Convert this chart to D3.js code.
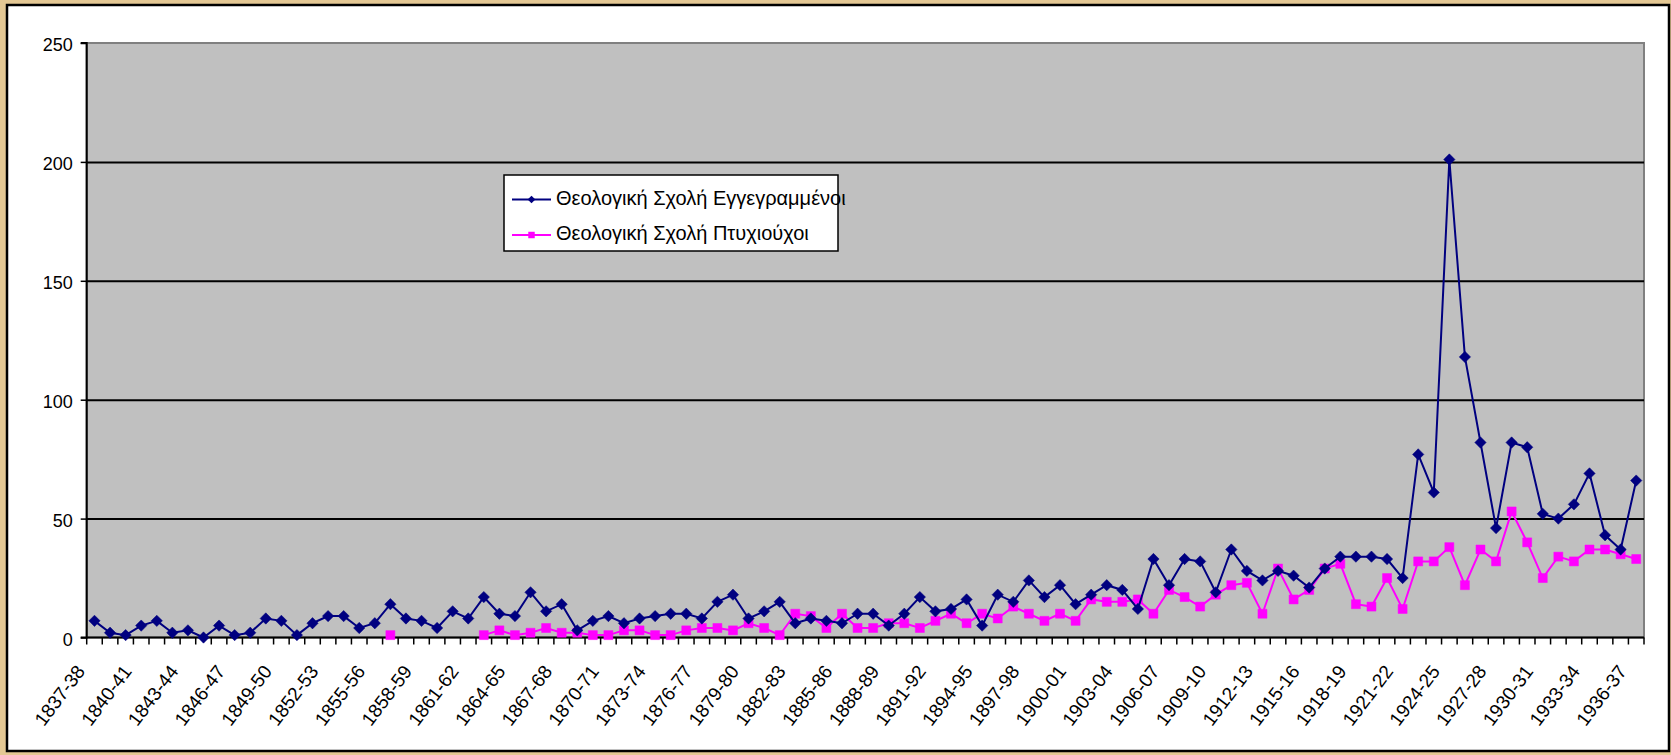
<!DOCTYPE html>
<html>
<head>
<meta charset="utf-8">
<script src="https://cdn.jsdelivr.net/npm/d3@7"></script>
<style>
html,body{margin:0;padding:0;background:#e4c894;}
svg{display:block;}
text{font-family:"Liberation Sans",Arial,sans-serif;fill:#000;}
</style>
</head>
<body>
<svg id="chart" width="1671" height="755"></svg>
<script>
const categories = [
"1837-38","1838-39","1839-40","1840-41","1841-42","1842-43","1843-44","1844-45","1845-46","1846-47",
"1847-48","1848-49","1849-50","1850-51","1851-52","1852-53","1853-54","1854-55","1855-56","1856-57",
"1857-58","1858-59","1859-60","1860-61","1861-62","1862-63","1863-64","1864-65","1865-66","1866-67",
"1867-68","1868-69","1869-70","1870-71","1871-72","1872-73","1873-74","1874-75","1875-76","1876-77",
"1877-78","1878-79","1879-80","1880-81","1881-82","1882-83","1883-84","1884-85","1885-86","1886-87",
"1887-88","1888-89","1889-90","1890-91","1891-92","1892-93","1893-94","1894-95","1895-96","1896-97",
"1897-98","1898-99","1899-00","1900-01","1901-02","1902-03","1903-04","1904-05","1905-06","1906-07",
"1907-08","1908-09","1909-10","1910-11","1911-12","1912-13","1913-14","1914-15","1915-16","1916-17",
"1917-18","1918-19","1919-20","1920-21","1921-22","1922-23","1923-24","1924-25","1925-26","1926-27",
"1927-28","1928-29","1929-30","1930-31","1931-32","1932-33","1933-34","1934-35","1935-36","1936-37"];

const tickLabels = ["1837-38","1840-41","1843-44","1846-47","1849-50","1852-53","1855-56","1858-59",
"1861-62","1864-65","1867-68","1870-71","1873-74","1876-77","1879-80","1882-83","1885-86","1888-89",
"1891-92","1894-95","1897-98","1900-01","1903-04","1906-07","1909-10","1912-13","1915-16","1918-19",
"1921-22","1924-25","1927-28","1930-31","1933-34","1936-37"];

const yTicks = [0,50,100,150,200,250];

const enrolledName = "Θεολογική Σχολή Εγγεγραμμένοι";
const enrolled = [
7,2,1,5,7,2,3,0,5,1,
2,8,7,1,6,9,9,4,6,14,
8,7,4,11,8,17,10,9,19,11,
14,3,7,9,6,8,9,10,10,8,
15,18,8,11,15,6,8,7,6,10,
10,5,10,17,11,12,16,5,18,15,
24,17,22,14,18,22,20,12,33,22,
33,32,19,37,28,24,28,26,21,29,
34,34,34,33,25,77,61,201,118,82,
46,82,80,52,50,56,69,43,37,66];

const graduatesName = "Θεολογική Σχολή Πτυχιούχοι";
const graduates = [
null,null,null,null,null,null,null,null,null,null,
null,null,null,null,null,null,null,null,null,1,
null,null,null,null,null,1,3,1,2,4,
2,2,1,1,3,3,1,1,3,4,
4,3,6,4,1,10,9,4,10,4,
4,6,6,4,7,10,6,10,8,13,
10,7,10,7,16,15,15,16,10,20,
17,13,18,22,23,10,29,16,20,29,
31,14,13,25,12,32,32,38,22,37,
32,53,40,25,34,32,37,37,35,33];

const svg = d3.select("#chart");
const PL = 86.7, PR = 1644, PT = 43, PB = 637.5;

// white chart area
svg.append("rect").attr("x",7).attr("y",5).attr("width",1662).attr("height",746)
  .attr("fill","#fff").attr("stroke","#000").attr("stroke-width",2.5);

const x = d3.scaleBand().domain(categories).range([PL, PR]).padding(0);
const y = d3.scaleLinear().domain([0,250]).range([PB, PT]);
const cx = c => x(c) + x.bandwidth()/2;

// plot area
svg.append("rect").attr("x",PL).attr("y",PT).attr("width",PR-PL).attr("height",PB-PT)
  .attr("fill","#c0c0c0").attr("stroke","#808080").attr("stroke-width",2);

// gridlines
svg.append("g").attr("transform",`translate(${PL},0)`)
  .call(d3.axisLeft(y).tickValues(yTicks.filter(v=>v>0 && v<250)).tickSize(-(PR-PL)).tickFormat(""))
  .call(g=>g.select(".domain").remove())
  .call(g=>g.selectAll("line").attr("stroke","#000").attr("stroke-width",2));

// y axis
svg.append("g").attr("transform",`translate(${PL},0)`)
  .call(d3.axisLeft(y).tickValues(yTicks).tickSize(6).tickPadding(8))
  .call(g=>g.select(".domain").attr("stroke","#000").attr("stroke-width",2).attr("d",`M-6,${PT}H0V${PB}H-6`))
  .call(g=>g.selectAll("line").attr("stroke","#000").attr("stroke-width",1.5))
  .call(g=>g.selectAll("text").attr("font-size","18px").attr("dy","0.42em")
    .attr("font-family","Liberation Sans, Arial, sans-serif").attr("fill","#000"));

// x axis line
svg.append("line").attr("x1",PL).attr("x2",PR).attr("y1",PB).attr("y2",PB)
  .attr("stroke","#000").attr("stroke-width",2);
// category boundary ticks
const bounds = categories.map(c=>x(c)).concat([PR]);
svg.append("g").selectAll("line").data(bounds).join("line")
  .attr("x1",d=>d).attr("x2",d=>d).attr("y1",PB).attr("y2",PB+7)
  .attr("stroke","#000").attr("stroke-width",1.5);
// x labels
svg.append("g").selectAll("text").data(tickLabels).join("text")
  .attr("transform",d=>`translate(${cx(d)-12.6},${PB+31}) rotate(-53)`)
  .attr("text-anchor","end").attr("dominant-baseline","middle")
  .attr("font-size","19px").text(d=>d);

// series
function drawSeries(values, color, shape, size){
  const pts = categories.map((c,i)=>({c, v: values[i]}));
  const line = d3.line().defined(d=>d.v!==null).x(d=>cx(d.c)).y(d=>y(d.v));
  svg.append("path").datum(pts).attr("d",line).attr("fill","none")
    .attr("stroke",color).attr("stroke-width",2);
  const sym = d3.symbol().type(d3.symbolSquare).size(size);
  svg.append("g").selectAll("path").data(pts.filter(d=>d.v!==null)).join("path")
    .attr("d",sym)
    .attr("transform",d=>`translate(${cx(d.c)},${y(d.v)})` + (shape==="diamond"?" rotate(45)":""))
    .attr("fill",color).attr("stroke",color).attr("stroke-width",0.5);
}
drawSeries(graduates, "#ff00ff", "square", 81);
drawSeries(enrolled, "#000080", "diamond", 64);

// legend
const lg = svg.append("g");
lg.append("rect").attr("x",504).attr("y",175).attr("width",334).attr("height",76)
  .attr("fill","#fff").attr("stroke","#000").attr("stroke-width",1.5);
const legendItems = [
  {name: enrolledName, color:"#000080", shape:"diamond", y:199.5},
  {name: graduatesName, color:"#ff00ff", shape:"square", y:235}
];
legendItems.forEach(it=>{
  lg.append("line").attr("x1",512).attr("x2",551).attr("y1",it.y).attr("y2",it.y)
    .attr("stroke",it.color).attr("stroke-width",2);
  lg.append("path").attr("d",d3.symbol().type(d3.symbolSquare).size(it.shape==="diamond"?30:42)())
    .attr("transform",`translate(531.5,${it.y})`+(it.shape==="diamond"?" rotate(45)":""))
    .attr("fill",it.color);
  lg.append("text").attr("x",556).attr("y",it.y).attr("dominant-baseline","middle")
    .attr("font-size","20px").text(it.name);
});
</script>
</body>
</html>
